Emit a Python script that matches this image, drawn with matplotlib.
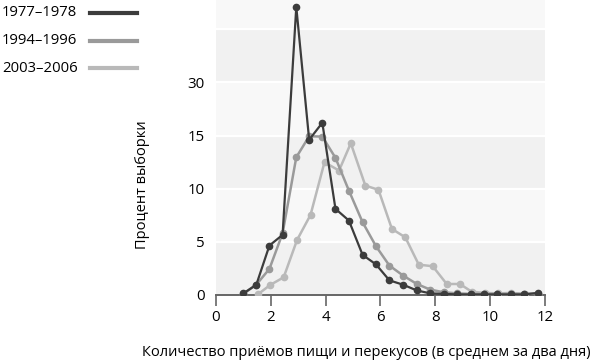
import numpy as np
import matplotlib
matplotlib.use('Agg')
import matplotlib.pyplot as plt
from matplotlib.lines import Line2D

plt.rcParams['font.family'] = ['Open Sans', 'DejaVu Sans']

# readings
x_a = [1.00, 1.47, 1.95, 2.43, 2.93, 3.40, 3.88, 4.36, 4.85, 5.35, 5.84, 6.33,
       6.83, 7.33, 7.82, 8.31, 8.80, 9.29, 9.78, 10.27, 10.76, 11.25, 11.77]
y_1977 = [0.15, 0.95, 4.65, 5.65, 27.1, 14.6, 16.2, 8.1, 7.0, 3.77, 2.87, 1.37,
          0.96, 0.42, 0.15, 0.1, 0.05, 0.05, 0.05, 0.05, 0.05, 0.05, 0.2]
y_1994 = [0.1, 0.97, 2.45, 5.8, 12.95, 14.93, 14.9, 12.9, 9.82, 6.84, 4.58, 2.76,
          1.82, 1.03, 0.5, 0.25, 0.15, 0.1, 0.1, 0.1, 0.1, 0.1, 0.1]
x_c = [1.55, 1.98, 2.47, 2.96, 3.45, 3.96, 4.49, 4.92, 5.45, 5.93, 6.42,
       6.91, 7.40, 7.91, 8.42, 8.90, 9.33, 9.80, 10.29, 10.78, 11.27, 11.77]
y_2003 = [0.1, 0.94, 1.66, 5.18, 7.53, 12.49, 11.7, 14.27, 10.29, 9.89, 6.21,
          5.42, 2.85, 2.7, 1.03, 1.03, 0.31, 0.19, 0.15, 0.19, 0.1, 0.1]

labels = ['1977–1978', '1994–1996', '2003–2006']
colors = ['#3c3c3c', '#9a9a9a', '#b9b9b9']
yticks = [0, 5, 10, 15, 20]
ytick_labels = ['0', '5', '10', '15', '30']  # as printed in the source

fig = plt.figure(figsize=(6, 3.61), dpi=100)
ax = fig.add_axes([0.36, 0.183, 0.548, 0.817])
ax.set_xlim(0, 12)
ax.set_ylim(0, 27.75)

for i, lo in enumerate(range(0, 30, 5)):
    c = '#f1f1f1' if i % 2 == 0 else '#f8f8f8'
    ax.axhspan(lo, lo + 5, color=c, lw=0, zorder=0)
    if lo > 0:
        ax.axhline(lo, color='white', lw=1.6, zorder=1)

ax.plot(x_c, y_2003, color=colors[2], lw=1.8, marker='o', ms=4.5, zorder=3)
ax.plot(x_a, y_1994, color=colors[1], lw=1.8, marker='o', ms=4.5, zorder=4)
ax.plot(x_a, y_1977, color=colors[0], lw=1.6, marker='o', ms=4.5, zorder=5)

for s in ['top', 'right', 'left']:
    ax.spines[s].set_visible(False)
ax.spines['bottom'].set_color('#666666')
ax.spines['bottom'].set_linewidth(1.4)
ax.set_xticks(range(0, 13, 2))
ax.set_yticks(yticks)
ax.set_yticklabels(ytick_labels)
ax.tick_params(axis='x', length=8, width=1.2, color='#666666', labelsize=10.8, pad=3)
ax.tick_params(axis='y', length=0, labelsize=10.8, pad=8)

fig.text(366 / 600, 1 - 352 / 361,
         'Количество приёмов пищи и перекусов (в среднем за два дня)',
         fontsize=10.5, ha='center', va='center')
fig.text(143 / 600, 1 - 185 / 361, 'Процент выборки', fontsize=10.5,
         rotation=90, ha='center', va='center')

# legend in the upper left corner
ys = [13, 41, 68]
for lab, c, yp in zip(labels, colors, ys):
    fy = 1 - yp / 361
    fig.text(2 / 600, fy, lab, fontsize=10.7, va='center', ha='left')
    fig.add_artist(Line2D([90 / 600, 137 / 600], [fy, fy], color=c, lw=3,
                          transform=fig.transFigure))

fig.savefig('out.png', dpi=100)
